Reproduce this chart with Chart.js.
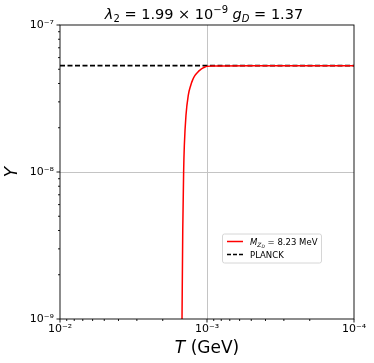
<!DOCTYPE html>
<html lang="en">
<head>
<meta charset="UTF-8">
<title>Y vs T</title>
<script src="https://cdn.jsdelivr.net/npm/chart.js"></script>
<style>
  body { margin: 0; padding: 0; background: #ffffff; }
  #wrap { width: 374px; height: 363px; }
</style>
</head>
<body>
<div id="wrap"><canvas id="yieldChart" width="374" height="363"></canvas></div>
<script>
  // values
  const redT = [1.479e-3, 1.462e-3, 1.442e-3, 1.426e-3, 1.39e-3, 1.341e-3, 1.291e-3, 1.25e-3, 1.207e-3, 1.16e-3, 1.117e-3, 1.07e-3, 1.033e-3, 1.0e-3, 9e-4, 5e-4, 1e-4];
  const redY = [1e-9, 4.0e-9, 1e-8, 1.52e-8, 2.43e-8, 3.32e-8, 3.88e-8, 4.25e-8, 4.54e-8, 4.76e-8, 4.93e-8, 5.08e-8, 5.18e-8, 5.23e-8, 5.26e-8, 5.28e-8, 5.28e-8];
  const planckT = [1e-2, 1e-4];
  const planckY = [5.3e-8, 5.3e-8];
  const xDecades = [-4, -3, -2];
  const yDecades = [-9, -8, -7];

  const FONT = '"DejaVu Sans", sans-serif';
  const supMap = { '0': '⁰', '1': '¹', '2': '²', '3': '³', '4': '⁴', '5': '⁵', '6': '⁶', '7': '⁷', '8': '⁸', '9': '⁹', '-': '⁻' };

  function isPow10(v) {
    const l = Math.log10(v);
    return Math.abs(l - Math.round(l)) < 1e-6;
  }
  function logTicks(decades) {
    const out = [];
    for (let i = 0; i < decades.length - 1; i++) {
      for (let m = 1; m <= 9; m++) out.push(m * Math.pow(10, decades[i]));
    }
    out.push(Math.pow(10, decades[decades.length - 1]));
    return out;
  }
  function powLabel(v) {
    if (!isPow10(v)) return '';
    const e = String(Math.round(Math.log10(v)));
    return '10' + e.split('').map(c => supMap[c]).join('');
  }

  // draw text made of runs with different size / style / offset
  function drawRuns(ctx, runs, x, y) {
    let w = 0;
    runs.forEach(r => {
      ctx.font = (r.italic ? 'italic ' : '') + r.size + 'px ' + FONT;
      r.w = ctx.measureText(r.t).width;
      w += r.w;
    });
    let cx = x - w / 2;
    ctx.textAlign = 'left';
    ctx.textBaseline = 'alphabetic';
    runs.forEach(r => {
      ctx.font = (r.italic ? 'italic ' : '') + r.size + 'px ' + FONT;
      ctx.fillText(r.t, cx, y + (r.dy || 0));
      cx += r.w;
    });
  }

  const decor = {
    id: 'decor',
    afterDatasetsDraw(chart) {
      const ctx = chart.ctx;
      const a = chart.chartArea;
      ctx.save();
      ctx.strokeStyle = '#000';
      ctx.lineWidth = 0.9;
      ctx.strokeRect(a.left, a.top, a.right - a.left, a.bottom - a.top);
      // tick marks
      const xs = chart.scales.x, ys = chart.scales.y;
      xs.ticks.forEach(t => {
        const px = xs.getPixelForValue(t.value);
        const len = isPow10(t.value) ? 3.5 : 2;
        ctx.beginPath();
        ctx.moveTo(px, a.bottom);
        ctx.lineTo(px, a.bottom + len);
        ctx.stroke();
      });
      ys.ticks.forEach(t => {
        const py = ys.getPixelForValue(t.value);
        const len = isPow10(t.value) ? 3.5 : 2;
        ctx.beginPath();
        ctx.moveTo(a.left, py);
        ctx.lineTo(a.left - len, py);
        ctx.stroke();
      });
      ctx.restore();
    },
    afterDraw(chart) {
      const ctx = chart.ctx;
      ctx.save();
      ctx.fillStyle = '#000';
      // title
      drawRuns(ctx, [
        { t: 'λ', size: 14.5, italic: true },
        { t: '2', size: 10, dy: 3 },
        { t: ' = 1.99 × 10', size: 14.5 },
        { t: '−9', size: 10, dy: -6 },
        { t: ' ', size: 14.5 },
        { t: 'g', size: 14.5, italic: true },
        { t: 'D', size: 10, italic: true, dy: 3 },
        { t: ' = 1.37', size: 14.5 }
      ], 204, 19);
      // x title
      drawRuns(ctx, [
        { t: 'T', size: 17, italic: true },
        { t: ' (GeV)', size: 17 }
      ], 207, 353);
      // y title
      ctx.save();
      ctx.translate(17, 172);
      ctx.rotate(-Math.PI / 2);
      drawRuns(ctx, [{ t: 'Y', size: 17, italic: true }], 0, 0);
      ctx.restore();

      // legend
      const lx = 222.5, ly = 234, lw = 99, lh = 29;
      ctx.fillStyle = 'rgba(255,255,255,0.8)';
      ctx.strokeStyle = '#d6d6d6';
      ctx.lineWidth = 1;
      ctx.beginPath();
      ctx.roundRect(lx, ly, lw, lh, 2);
      ctx.fill();
      ctx.stroke();

      ctx.strokeStyle = '#ff0000';
      ctx.lineWidth = 1.5;
      ctx.beginPath();
      ctx.moveTo(227, 241.5);
      ctx.lineTo(243, 241.5);
      ctx.stroke();

      ctx.strokeStyle = '#000';
      ctx.lineWidth = 1.6;
      ctx.setLineDash([4, 2]);
      ctx.beginPath();
      ctx.moveTo(227, 254.5);
      ctx.lineTo(243, 254.5);
      ctx.stroke();
      ctx.setLineDash([]);

      ctx.fillStyle = '#000';
      const mRuns = [
        { t: 'M', size: 8.5, italic: true },
        { t: 'Z', size: 6, italic: true, dy: 2 },
        { t: 'D', size: 4.5, italic: true, dy: 3.5 },
        { t: ' = 8.23 MeV', size: 8.5 }
      ];
      // left aligned: compute width then offset
      let w = 0;
      mRuns.forEach(r => { ctx.font = (r.italic ? 'italic ' : '') + r.size + 'px ' + FONT; w += ctx.measureText(r.t).width; });
      drawRuns(ctx, mRuns, 250 + w / 2, 244.5);
      ctx.font = '8.5px ' + FONT;
      const pw = ctx.measureText('PLANCK').width;
      drawRuns(ctx, [{ t: 'PLANCK', size: 8.5 }], 250 + pw / 2, 257.5);
      ctx.restore();
    }
  };

  const gridColor = c => {
    const v = c.tick && c.tick.value;
    if (v && isPow10(v) && c.index > 0 && c.index < c.scale.ticks.length - 1) return '#c4c4c4';
    return 'rgba(0,0,0,0)';
  };

  new Chart(document.getElementById('yieldChart'), {
    type: 'line',
    data: {
      datasets: [{
        label: 'M_ZD = 8.23 MeV',
        data: redT.map((t, i) => ({ x: t, y: redY[i] })),
        borderColor: '#ff0000',
        borderWidth: 1.5,
        pointRadius: 0,
        cubicInterpolationMode: 'monotone',
        fill: false
      }, {
        label: 'PLANCK',
        data: planckT.map((t, i) => ({ x: t, y: planckY[i] })),
        borderColor: '#000000',
        borderWidth: 1.8,
        borderDash: [5, 2.5],
        pointRadius: 0,
        fill: false
      }]
    },
    plugins: [decor],
    options: {
      responsive: false,
      animation: false,
      layout: { padding: { top: 25, right: 20, left: 0, bottom: 0 } },
      plugins: {
        legend: { display: false },
        title: { display: false },
        tooltip: { enabled: false }
      },
      scales: {
        x: {
          type: 'logarithmic',
          reverse: true,
          min: 1e-4,
          max: 1e-2,
          afterBuildTicks: s => { s.ticks = logTicks(xDecades).map(v => ({ value: v, major: isPow10(v) })); },
          afterFit: s => { s.height = 44; },
          grid: { color: gridColor, lineWidth: 1, drawTicks: false },
          border: { display: false },
          ticks: {
            autoSkip: false, maxRotation: 0, minRotation: 0, padding: 4,
            color: '#000', font: { family: FONT, size: 11 },
            callback: v => powLabel(v)
          }
        },
        y: {
          type: 'logarithmic',
          min: 1e-9,
          max: 1e-7,
          afterBuildTicks: s => { s.ticks = logTicks(yDecades).map(v => ({ value: v, major: isPow10(v) })); },
          afterFit: s => { s.width = 60; },
          grid: { color: gridColor, lineWidth: 1, drawTicks: false },
          border: { display: false },
          ticks: {
            autoSkip: false, padding: 6,
            color: '#000', font: { family: FONT, size: 11 },
            callback: v => powLabel(v)
          }
        }
      }
    }
  });
</script>
</body>
</html>
